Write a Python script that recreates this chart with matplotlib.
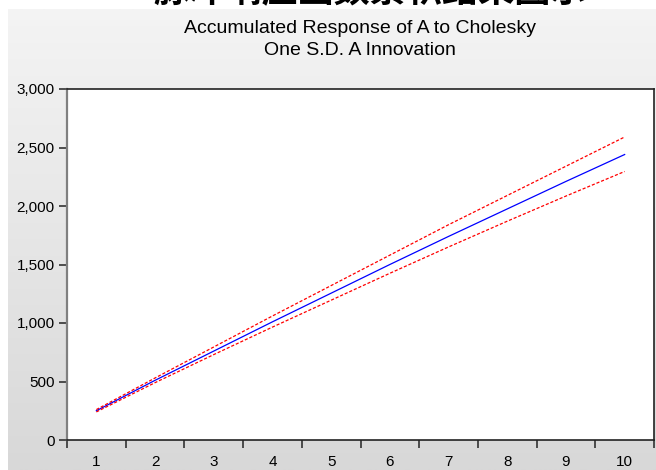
import numpy as np
import matplotlib.pyplot as plt
from matplotlib.colors import LinearSegmentedColormap
from matplotlib.ticker import FuncFormatter, FixedLocator

# accumulated impulse response values
periods = [1, 2, 3, 4, 5, 6, 7, 8, 9, 10]
response = [250, 510, 760, 1010, 1255, 1500, 1740, 1975, 2210, 2440]
upper_band = [260, 530, 795, 1060, 1320, 1580, 1840, 2090, 2340, 2590]
lower_band = [240, 490, 730, 965, 1195, 1425, 1650, 1870, 2085, 2295]

y_ticks = [0, 500, 1000, 1500, 2000, 2500, 3000]

title = "Accumulated Response of A to Cholesky\nOne S.D. A Innovation"

plt.rcParams["font.family"] = ["Liberation Sans", "Noto Sans CJK SC", "DejaVu Sans"]

fig = plt.figure(figsize=(6.56, 4.70), dpi=100)

# gray gradient panel behind the chart
bg = fig.add_axes([8 / 656, 0, 1 - 8 / 656, 1 - 9 / 470])
grad = np.linspace(0, 1, 256).reshape(-1, 1)
bg.imshow(grad, aspect="auto", cmap=LinearSegmentedColormap.from_list("g", ["#f4f4f4", "#d8d8d8"]),
          extent=[0, 1, 0, 1], origin="upper")
bg.set_axis_off()

ax = fig.add_axes([67 / 656, 30 / 470, (654 - 67) / 656, (440 - 89) / 470])
ax.set_facecolor("white")

ax.plot(periods, response, color="#0000ff", linewidth=0.9)
ax.plot(periods, upper_band, color="#ff0000", linewidth=0.9, linestyle=(0, (2.5, 1.5)))
ax.plot(periods, lower_band, color="#ff0000", linewidth=0.9, linestyle=(0, (2.5, 1.5)))

ax.set_xlim(0.5, 10.5)
ax.set_ylim(0, 3000)
ax.set_yticks(y_ticks)
ax.yaxis.set_major_formatter(FuncFormatter(lambda v, p: f"{int(v):,}"))

# ticks on period boundaries, labels centred under each period
ax.xaxis.set_major_locator(FixedLocator([p - 0.5 for p in periods] + [10.5]))
ax.xaxis.set_major_formatter(FuncFormatter(lambda v, p: ""))
ax.set_xticks(periods, minor=True)
ax.set_xticklabels([str(p) for p in periods], minor=True)
ax.tick_params(axis="x", which="minor", length=0, labelsize=11, pad=11)
ax.tick_params(axis="x", which="major", length=6, width=1.2, color="#333333", direction="out")
ax.tick_params(axis="y", length=6, width=1.2, color="#333333", labelsize=11, pad=3)

for side in ["top", "right", "bottom"]:
    ax.spines[side].set_color("#222222")
    ax.spines[side].set_linewidth(1.2)
ax.spines["left"].set_color("#808080")
ax.spines["left"].set_linewidth(1.6)

fig.text(360 / 656, 1 - 20 / 470, title, ha="center", va="top", fontsize=14, linespacing=1.4)

# bottom of a clipped heading above the chart
fig.text(370 / 656, 1 - 9 / 470, "脉冲响应函数累积结果图示", ha="center", va="bottom",
         fontsize=26, color="black", fontweight="bold")

fig.savefig("out.png", dpi=100)
